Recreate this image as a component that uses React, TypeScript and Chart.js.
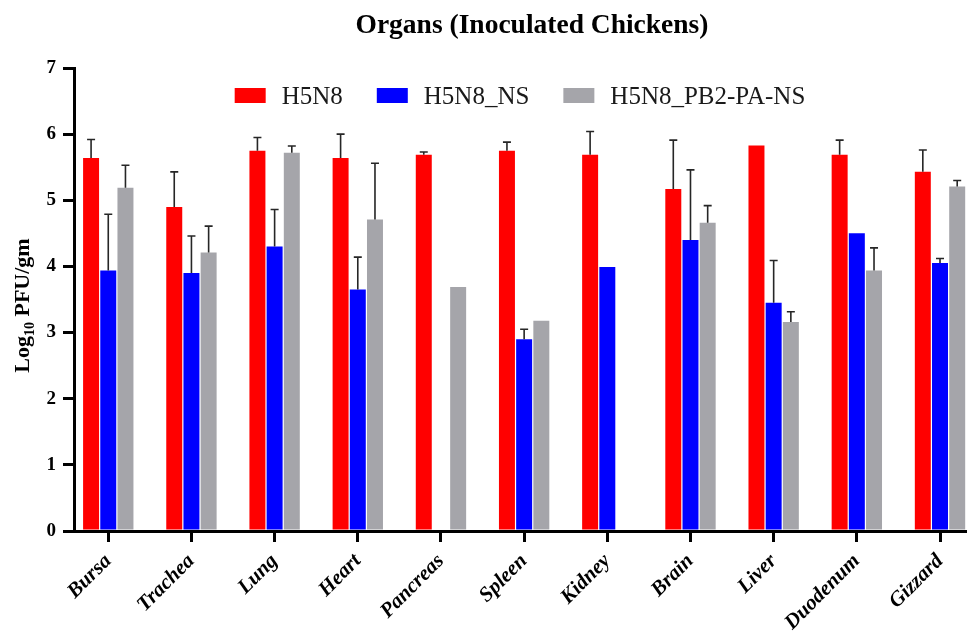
import React, { useEffect, useRef } from 'react';
import { Chart, registerables } from 'chart.js';

Chart.register(...registerables);

const categories = ['Bursa', 'Trachea', 'Lung', 'Heart', 'Pancreas', 'Spleen', 'Kidney', 'Brain', 'Liver', 'Duodenum', 'Gizzard'];
const seriesNames = ['H5N8', 'H5N8_NS', 'H5N8_PB2-PA-NS'];
const seriesColors = ['#FF0000', '#0000FF', '#A5A5AA'];

const h5n8 = [5.64, 4.9, 5.75, 5.64, 5.69, 5.75, 5.69, 5.17, 5.83, 5.69, 5.43];
const h5n8Err = [0.28, 0.53, 0.2, 0.36, 0.04, 0.13, 0.35, 0.74, null, 0.22, 0.33];
const h5n8NS = [3.94, 3.9, 4.3, 3.65, null, 2.9, 3.99, 4.4, 3.45, 4.5, 4.05];
const h5n8NSErr = [0.85, 0.56, 0.56, 0.49, null, 0.15, null, 1.06, 0.64, null, 0.07];
const h5n8PB2 = [5.19, 4.21, 5.72, 4.71, 3.69, 3.18, null, 4.66, 3.16, 3.94, 5.21];
const h5n8PB2Err = [0.34, 0.4, 0.1, 0.85, null, null, null, 0.26, 0.155, 0.34, 0.09];

const yTicks = [0, 1, 2, 3, 4, 5, 6, 7];
const titleText = 'Organs (Inoculated Chickens)';

const seriesValues = [h5n8, h5n8NS, h5n8PB2];
const seriesErrors = [h5n8Err, h5n8NSErr, h5n8PB2Err];

const SERIF = '"Liberation Serif", "Times New Roman", serif';

const overlayPlugin = {
  id: 'overlay',
  afterDatasetsDraw(chart: any) {
    const ctx = chart.ctx;
    const yScale = chart.scales.y;
    ctx.save();
    ctx.strokeStyle = '#262626';
    ctx.lineWidth = 1.6;
    seriesErrors.forEach((errs, d) => {
      const meta = chart.getDatasetMeta(d);
      errs.forEach((e, i) => {
        const v = seriesValues[d][i];
        if (e == null || v == null) return;
        const bar = meta.data[i];
        if (!bar) return;
        const top = yScale.getPixelForValue(v + e);
        ctx.beginPath();
        ctx.moveTo(bar.x, bar.y);
        ctx.lineTo(bar.x, top);
        ctx.moveTo(bar.x - 4, top);
        ctx.lineTo(bar.x + 4, top);
        ctx.stroke();
      });
    });
    ctx.restore();
  },
  afterDraw(chart: any) {
    const ctx = chart.ctx;
    const ca = chart.chartArea;
    const cx = (ca.left + ca.right) / 2;
    ctx.save();
    // Title
    ctx.fillStyle = '#000';
    ctx.font = `bold 27.5px ${SERIF}`;
    ctx.textAlign = 'center';
    ctx.textBaseline = 'alphabetic';
    ctx.fillText(titleText, cx + 12, 33);

    // Legend
    ctx.font = `25px ${SERIF}`;
    ctx.textAlign = 'left';
    const boxW = 31;
    const boxH = 15;
    const gapBox = 16;
    const gapItem = 34;
    const widths = seriesNames.map((n) => ctx.measureText(n).width);
    const total = widths.reduce((a, w) => a + boxW + gapBox + w, 0) + gapItem * (seriesNames.length - 1);
    let x = cx - total / 2;
    const boxTop = ca.top + 20;
    seriesNames.forEach((n, i) => {
      ctx.fillStyle = seriesColors[i];
      ctx.fillRect(x, boxTop, boxW, boxH);
      x += boxW + gapBox;
      ctx.fillStyle = '#1a1a1a';
      ctx.fillText(n, x, boxTop + 16);
      x += widths[i] + gapItem;
    });

    // Y axis title with subscript
    ctx.translate(29, (ca.top + ca.bottom) / 2 + 6);
    ctx.rotate(-Math.PI / 2);
    ctx.fillStyle = '#000';
    const big = `bold 22px ${SERIF}`;
    const small = `bold 14px ${SERIF}`;
    ctx.font = big;
    const w1 = ctx.measureText('Log').width;
    const w3 = ctx.measureText(' PFU/gm').width;
    ctx.font = small;
    const w2 = ctx.measureText('10').width;
    let tx = -(w1 + w2 + w3) / 2;
    ctx.font = big;
    ctx.fillText('Log', tx, 0);
    tx += w1;
    ctx.font = small;
    ctx.fillText('10', tx, 5);
    tx += w2;
    ctx.font = big;
    ctx.fillText(' PFU/gm', tx, 0);
    ctx.restore();
  },
};

export default function App() {
  const canvasRef = useRef<HTMLCanvasElement | null>(null);

  useEffect(() => {
    if (!canvasRef.current) return;
    const chart = new Chart(canvasRef.current, {
      type: 'bar',
      data: {
        datasets: seriesNames.map((name, d) => ({
          label: name,
          data: seriesValues[d].map((v, i) => ({ x: i, y: v })),
          backgroundColor: seriesColors[d],
          borderWidth: 0,
          categoryPercentage: 0.62,
          barPercentage: 0.93,
        })),
      },
      options: {
        animation: false,
        responsive: true,
        maintainAspectRatio: false,
        layout: { padding: { top: 68, right: 1, left: 0, bottom: 0 } },
        plugins: {
          legend: { display: false },
          title: { display: false },
          tooltip: { enabled: false },
        },
        scales: {
          x: {
            type: 'linear',
            min: -0.412,
            max: 10.3125,
            offset: false,
            grid: {
              offset: false,
              drawOnChartArea: false,
              drawTicks: true,
              tickLength: 11,
              lineWidth: 3,
              tickWidth: 3,
              color: '#000',
              tickColor: '#000',
            },
            border: { display: true, width: 3, color: '#000' },
            ticks: {
              stepSize: 1,
              includeBounds: false,
              autoSkip: false,
              maxRotation: 45,
              minRotation: 45,
              padding: 7,
              color: '#000',
              font: { family: SERIF, size: 21, weight: 'bold', style: 'italic' },
              callback: (v: any) => (Number.isInteger(v) && categories[v] !== undefined ? categories[v] : ''),
            },
            afterFit: (s: any) => {
              s.height = 103;
            },
          },
          y: {
            min: yTicks[0],
            max: yTicks[yTicks.length - 1],
            grid: {
              drawOnChartArea: false,
              drawTicks: true,
              tickLength: 11,
              lineWidth: 3,
              tickWidth: 3,
              color: '#000',
              tickColor: '#000',
            },
            border: { display: true, width: 3, color: '#000' },
            afterBuildTicks: (s: any) => {
              s.ticks = yTicks.map((v) => ({ value: v }));
            },
            ticks: {
              padding: 7,
              color: '#000',
              font: { family: SERIF, size: 19, weight: 'bold' },
            },
            afterFit: (s: any) => {
              s.width = 74;
            },
          },
        },
      },
      plugins: [overlayPlugin],
    } as any);
    return () => chart.destroy();
  }, []);

  return (
    <div style={{ position: 'absolute', left: 0, top: 0, width: 967, height: 634, background: '#fff' }}>
      <canvas ref={canvasRef} />
    </div>
  );
}
